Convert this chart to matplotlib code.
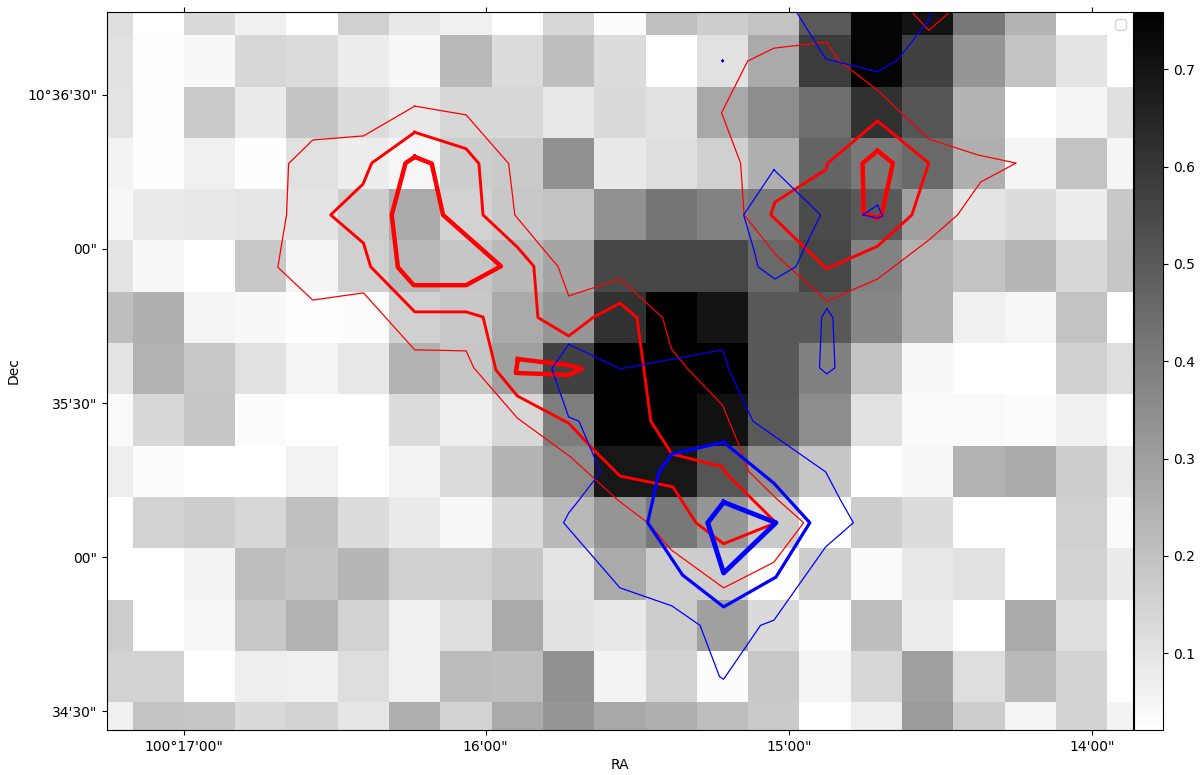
import numpy as np
import matplotlib
matplotlib.use('Agg')
import matplotlib.pyplot as plt

# flux map, rows top to bottom, in image pixel order
flux = np.array([
    [.117,.022,.129,.065,.022,.158,.088,.065,.022,.138,.031,.204,.167,.195,.499,.745,.701,.412,.239,.022,.022],
    [.109,.028,.042,.138,.123,.074,.042,.224,.123,.210,.123,.022,.109,.268,.586,.745,.571,.325,.195,.100,.022],
    [.100,.028,.175,.080,.190,.123,.088,.138,.138,.088,.129,.106,.273,.354,.441,.614,.513,.239,.022,.051,.112],
    [.057,.025,.065,.025,.109,.074,.048,.167,.175,.340,.088,.117,.158,.253,.470,.412,.456,.253,.051,.195,.051],
    [.042,.080,.088,.094,.100,.167,.268,.152,.181,.195,.340,.418,.383,.412,.542,.499,.297,.100,.123,.074,.181],
    [.100,.042,.022,.181,.051,.158,.224,.187,.224,.282,.557,.557,.557,.456,.557,.383,.245,.195,.233,.138,.187],
    [.210,.253,.051,.042,.025,.031,.158,.181,.268,.325,.614,.759,.701,.505,.505,.369,.239,.065,.048,.195,.022],
    [.100,.245,.181,.109,.054,.088,.245,.187,.297,.571,.759,.759,.759,.505,.389,.195,.042,.022,.022,.158,.117],
    [.037,.135,.187,.031,.022,.022,.123,.071,.138,.398,.759,.759,.707,.499,.354,.109,.037,.039,.031,.065,.022],
    [.071,.034,.022,.022,.060,.022,.057,.123,.239,.354,.690,.690,.513,.340,.187,.022,.045,.245,.268,.167,.071],
    [.022,.152,.167,.138,.204,.123,.080,.042,.129,.224,.325,.412,.325,.175,.022,.167,.123,.022,.022,.158,.037],
    [.022,.022,.060,.210,.190,.233,.158,.158,.187,.100,.268,.167,.167,.022,.167,.037,.088,.109,.022,.152,.080],
    [.167,.022,.045,.181,.245,.152,.065,.117,.268,.106,.088,.167,.297,.129,.028,.210,.074,.022,.268,.117,.022],
    [.152,.152,.022,.071,.065,.117,.065,.216,.210,.340,.057,.146,.031,.181,.051,.138,.297,.117,.224,.146,.022],
    [.065,.195,.187,.129,.146,.094,.253,.146,.268,.325,.273,.253,.210,.175,.022,.071,.311,.167,.051,.146,.057],
])

ra_ticks = [1.5, 7.38, 13.29, 19.2]
ra_labels = ['100°17\'00"', '16\'00"', '15\'00"', '14\'00"']
dec_ticks = [1.66, 4.66, 7.67, 10.67, 13.67]
dec_labels = ['10°36\'30"', '00"', '35\'30"', '00"', '34\'30"']

# red contours (grid coordinates of the map)
red_outer_a = [(6.0,1.88),(7.0,2.05),(7.83,3.0),(7.95,4.0),(8.65,4.84),(8.79,5.0),(9.0,5.58),(10.0,5.25),
               (10.83,6.0),(11.0,6.61),(11.32,7.0),(12.0,7.71),(12.3,8.44),(12.51,9.0),(13.04,9.52),(13.58,10.0),
               (13.0,10.77),(12.02,11.27),(11.0,10.53),(10.54,10.0),(9.96,9.56),(9.04,8.72),(8.0,7.96),(7.15,6.98),
               (7.0,6.65),(6.0,6.63),(5.53,6.11),(5.0,5.52),(4.01,5.66),(3.33,5.02),(3.5,4.0),(3.54,3.0),
               (4.01,2.54),(5.0,2.46),(6.0,1.88)]
red_mid_a = [(6.0,2.39),(7.0,2.71),(7.25,3.0),(7.33,4.0),(8.0,4.63),(8.32,5.0),(8.4,6.0),(9.0,6.36),(9.49,5.99),
             (10.0,5.72),(10.33,6.0),(10.46,6.96),(10.6,8.02),(11.01,8.66),(12.0,8.91),(12.06,9.03),(13.04,10.0),
             (12.02,10.41),(11.48,10.0),(11.03,9.3),(10.0,9.09),(9.49,8.58),(9.0,8.06),(8.0,7.53),(7.58,7.02),
             (7.33,5.99),(7.0,5.89),(6.0,5.89),(5.14,5.01),(5.0,4.55),(4.36,4.0),(4.99,3.4),(5.16,2.99),(6.0,2.39)]
red_in_a = [(6.0,2.87),(6.33,3.0),(6.55,4.0),(7.68,5.0),(7.0,5.37),(5.98,5.37),(5.67,5.02),(5.55,4.0),(5.82,2.99),(6.0,2.87)]
red_in_b = [(8.01,6.81),(9.0,6.93),(9.26,7.0),(9.0,7.12),(7.97,7.08),(8.01,6.81)]
red_outer_c = [(14.03,5.68),(13.04,4.78),(12.42,4.0),(12.35,2.99),(11.98,2.01),(12.49,1.0),(13.0,0.75),(14.03,0.63),
               (14.25,0.98),(15.02,1.57),(16.02,2.52),(16.97,2.83),(17.72,2.99),(17.03,3.36),(16.58,4.0),(16.02,4.49),
               (15.02,5.25),(14.03,5.68)]
red_mid_c = [(15.02,2.17),(16.02,2.99),(15.69,4.0),(15.02,4.61),(14.03,5.05),(12.94,4.0),(13.02,3.75),(14.01,3.12),(14.05,2.99),(15.02,2.17)]
red_in_c = [(15.02,2.75),(15.32,2.99),(15.1,4.0),(15.02,4.06),(14.75,3.96),(14.73,2.99),(15.02,2.75)]
red_top = [(15.55,-0.1),(16.02,0.4),(16.6,-0.1)]

# blue contours
blue_top = [(13.35,-0.1),(14.01,0.96),(15.02,1.21),(15.41,0.98),(16.02,0.2),(16.1,-0.1)]
blue_dot = [(12.0,0.98),(12.02,1.0),(12.0,1.02),(11.98,1.0),(12.0,0.98)]
blue_diamond = [(13.0,3.12),(13.91,4.0),(13.58,4.68),(13.43,5.01),(13.02,5.25),(12.69,5.01),(12.61,4.68),(12.41,4.0),(13.0,3.12)]
blue_tiny = [(15.02,3.81),(15.12,4.02),(15.02,4.06),(14.73,4.0),(15.02,3.81)]
blue_narrow = [(14.03,5.83),(14.15,6.0),(14.19,6.98),(14.03,7.1),(13.89,6.98),(13.93,6.0),(14.03,5.83)]
blue_outer = [(9.0,6.52),(10.0,7.0),(12.0,6.63),(12.12,7.0),(12.59,8.02),(14.01,9.01),(14.3,9.56),(14.55,10.0),
              (14.01,10.47),(13.0,11.9),(12.74,12.0),(12.02,13.05),(11.94,13.0),(11.56,12.0),(11.01,11.62),(10.0,11.27),
              (8.9,10.0),(9.0,9.81),(9.2,9.56),(9.62,9.01),(9.2,8.02),(9.0,7.94),(8.67,7.0),(9.0,6.52)]
blue_mid = [(12.02,8.43),(13.0,9.23),(13.7,10.0),(13.04,11.06),(12.02,11.64),(11.22,11.02),(10.54,10.0),(10.76,9.01),(11.01,8.66),(12.02,8.43)]
blue_in = [(12.02,9.6),(13.04,10.0),(12.02,10.98),(11.71,10.0),(12.02,9.6)]

fig = plt.figure(figsize=(12, 7.75), dpi=100)
ax = fig.add_axes([107/1200, 45/775, 1026/1200, 718/775])
im = ax.imshow(flux, cmap='gray_r', vmin=0.021, vmax=0.759, interpolation='nearest', aspect='auto')

def draw(line, color, lw):
    pts = np.array(line)
    ax.plot(pts[:, 0], pts[:, 1], color=color, lw=lw)

for line in [red_outer_a, red_outer_c, red_top]:
    draw(line, 'red', 0.9)
for line in [red_mid_a, red_mid_c]:
    draw(line, 'red', 2.1)
for line in [red_in_a, red_in_b, red_in_c]:
    draw(line, 'red', 3.2)
for line in [blue_top, blue_dot, blue_diamond, blue_tiny, blue_narrow, blue_outer]:
    draw(line, 'blue', 0.9)
draw(blue_mid, 'blue', 2.3)
draw(blue_in, 'blue', 3.5)

ax.set_xlim(0, 20)
ax.set_ylim(14.04, 0.045)
ax.set_xticks(ra_ticks)
ax.set_xticklabels(ra_labels)
ax.set_yticks(dec_ticks)
ax.set_yticklabels(dec_labels)
ax.tick_params(axis='both', labelsize=10, top=True)
ax.set_xlabel('RA', fontsize=10, labelpad=3)
ax.set_ylabel('Dec', fontsize=10, labelpad=5)
ax.legend(handles=[], loc='upper right')

cax = fig.add_axes([1134/1200, 45/775, 29/1200, 718/775])
cbar = fig.colorbar(im, cax=cax)
cbar.set_ticks([0.1, 0.2, 0.3, 0.4, 0.5, 0.6, 0.7])
cbar.ax.tick_params(labelsize=10)

fig.savefig('out.png', dpi=100)
